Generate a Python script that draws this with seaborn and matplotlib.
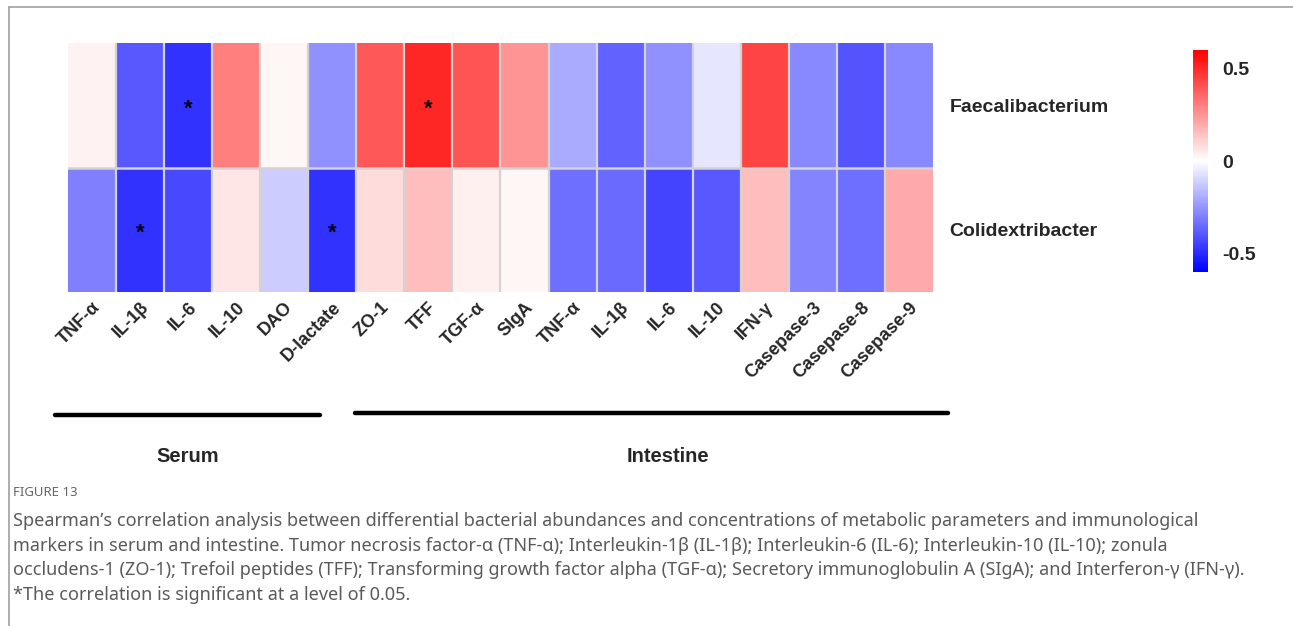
import numpy as np
import pandas as pd
import matplotlib
matplotlib.use('Agg')
import matplotlib.pyplot as plt
from matplotlib.colors import LinearSegmentedColormap
from matplotlib.lines import Line2D
import seaborn as sns

sns.set_theme(style='white')
plt.rcParams['font.family'] = ['Liberation Sans', 'DejaVu Sans']

# --- data ---
markers = ['TNF-α', 'IL-1β', 'IL-6', 'IL-10', 'DAO', 'D-lactate',
           'ZO-1', 'TFF', 'TGF-α', 'SIgA', 'TNF-α', 'IL-1β', 'IL-6', 'IL-10',
           'IFN-γ', 'Casepase-3', 'Casepase-8', 'Casepase-9']
bacteria = ['Faecalibacterium', 'Colidextribacter']

faecali_r = [0.03, -0.39, -0.48, 0.30, 0.02, -0.26, 0.39, 0.51, 0.40, 0.25,
             -0.20, -0.37, -0.26, -0.06, 0.44, -0.28, -0.40, -0.28]
colidex_r = [-0.30, -0.48, -0.43, 0.06, -0.12, -0.48, 0.08, 0.15, 0.035, 0.02,
             -0.34, -0.35, -0.44, -0.39, 0.15, -0.29, -0.34, 0.20]

faecali_sig = ['', '', '*', '', '', '', '', '*', '', '', '', '', '', '', '', '', '', '']
colidex_sig = ['', '*', '', '', '', '*', '', '', '', '', '', '', '', '', '', '', '', '']

groups = ['Serum', 'Intestine']
cbar_ticks = [-0.5, 0, 0.5]

caption_title = 'FIGURE 13'
caption_lines = [
    'Spearman’s correlation analysis between differential bacterial abundances and concentrations of metabolic parameters and immunological',
    'markers in serum and intestine. Tumor necrosis factor-α (TNF-α); Interleukin-1β (IL-1β); Interleukin-6 (IL-6); Interleukin-10 (IL-10); zonula',
    'occludens-1 (ZO-1); Trefoil peptides (TFF); Transforming growth factor alpha (TGF-α); Secretory immunoglobulin A (SIgA); and Interferon-γ (IFN-γ).',
    '*The correlation is significant at a level of 0.05.',
]


def main():
    W, H = 1293, 626
    fig = plt.figure(figsize=(W / 100, H / 100), dpi=100)

    def fx(px):
        return px / W

    def fy(py):
        return 1 - py / H

    df = pd.DataFrame([faecali_r, colidex_r], index=bacteria)

    cmap = LinearSegmentedColormap.from_list('bwr_gg', ['#0000FF', '#FFFFFF', '#FF0000'])

    ax = fig.add_axes([fx(68), fy(292), fx(933) - fx(68), fy(43) - fy(292)])
    cax = fig.add_axes([fx(1193), fy(272), fx(1208) - fx(1193), fy(50) - fy(272)])

    sns.heatmap(df, ax=ax, cbar_ax=cax, cmap=cmap, vmin=-0.6, vmax=0.6,
                linewidths=0, cbar_kws={'ticks': cbar_ticks})

    # gray separators only between cells (no outer frame)
    for i in range(1, len(markers)):
        ax.axvline(i, color='#d3d3d3', lw=1.6)
    ax.axhline(1, color='#d3d3d3', lw=1.8)

    # significance stars
    for i, row in enumerate([faecali_sig, colidex_sig]):
        for j, s in enumerate(row):
            if s:
                ax.text(j + 0.5, i + 0.53, s, ha='center', va='center',
                        fontsize=16, fontweight='bold', color='black')

    # column labels
    ax.set_xticks(np.arange(len(markers)) + 0.5)
    ax.set_xticklabels(markers, rotation=45, ha='right', rotation_mode='anchor',
                       fontsize=13, fontweight='bold')
    ax.tick_params(axis='x', length=0, pad=5)

    # row labels on the right
    ax.yaxis.tick_right()
    ax.set_yticklabels(bacteria, rotation=0, fontsize=14, fontweight='bold')
    ax.tick_params(axis='y', length=0, pad=12)
    ax.set_xlabel('')
    ax.set_ylabel('')

    # colorbar styling
    cax.set_yticklabels(['-0.5', '0', '0.5'], fontsize=14, fontweight='bold')
    cax.tick_params(axis='y', which='both', direction='in', color='white',
                    length=4, width=1.5, left=True, right=True, pad=10)
    for s in cax.spines.values():
        s.set_visible(False)

    # group bars below
    fig.add_artist(Line2D([fx(55), fx(320)], [fy(415), fy(415)], color='black', lw=3.2))
    fig.add_artist(Line2D([fx(355), fx(948)], [fy(413), fy(413)], color='black', lw=3.2))
    fig.text(fx(188), fy(457), groups[0], ha='center', va='center', fontsize=14.5, fontweight='bold')
    fig.text(fx(668), fy(457), groups[1], ha='center', va='center', fontsize=14.5, fontweight='bold')

    # caption
    fig.text(fx(13), fy(493), caption_title, ha='left', va='center', fontsize=9.5,
             color='#666666', family='Noto Sans')
    for i, line in enumerate(caption_lines):
        fig.text(fx(13), fy(521 + i * 24.7), line, ha='left', va='center', fontsize=13,
                 color='#5a5a5a', family='Noto Sans')

    # frame lines of the figure panel
    fig.add_artist(Line2D([fx(9), 1], [fy(7), fy(7)], color='#a0a0a0', lw=1.2))
    fig.add_artist(Line2D([fx(9), fx(9)], [fy(7), 0], color='#a0a0a0', lw=1.2))

    plt.savefig('out.png', dpi=100)


if __name__ == "__main__":
    main()
